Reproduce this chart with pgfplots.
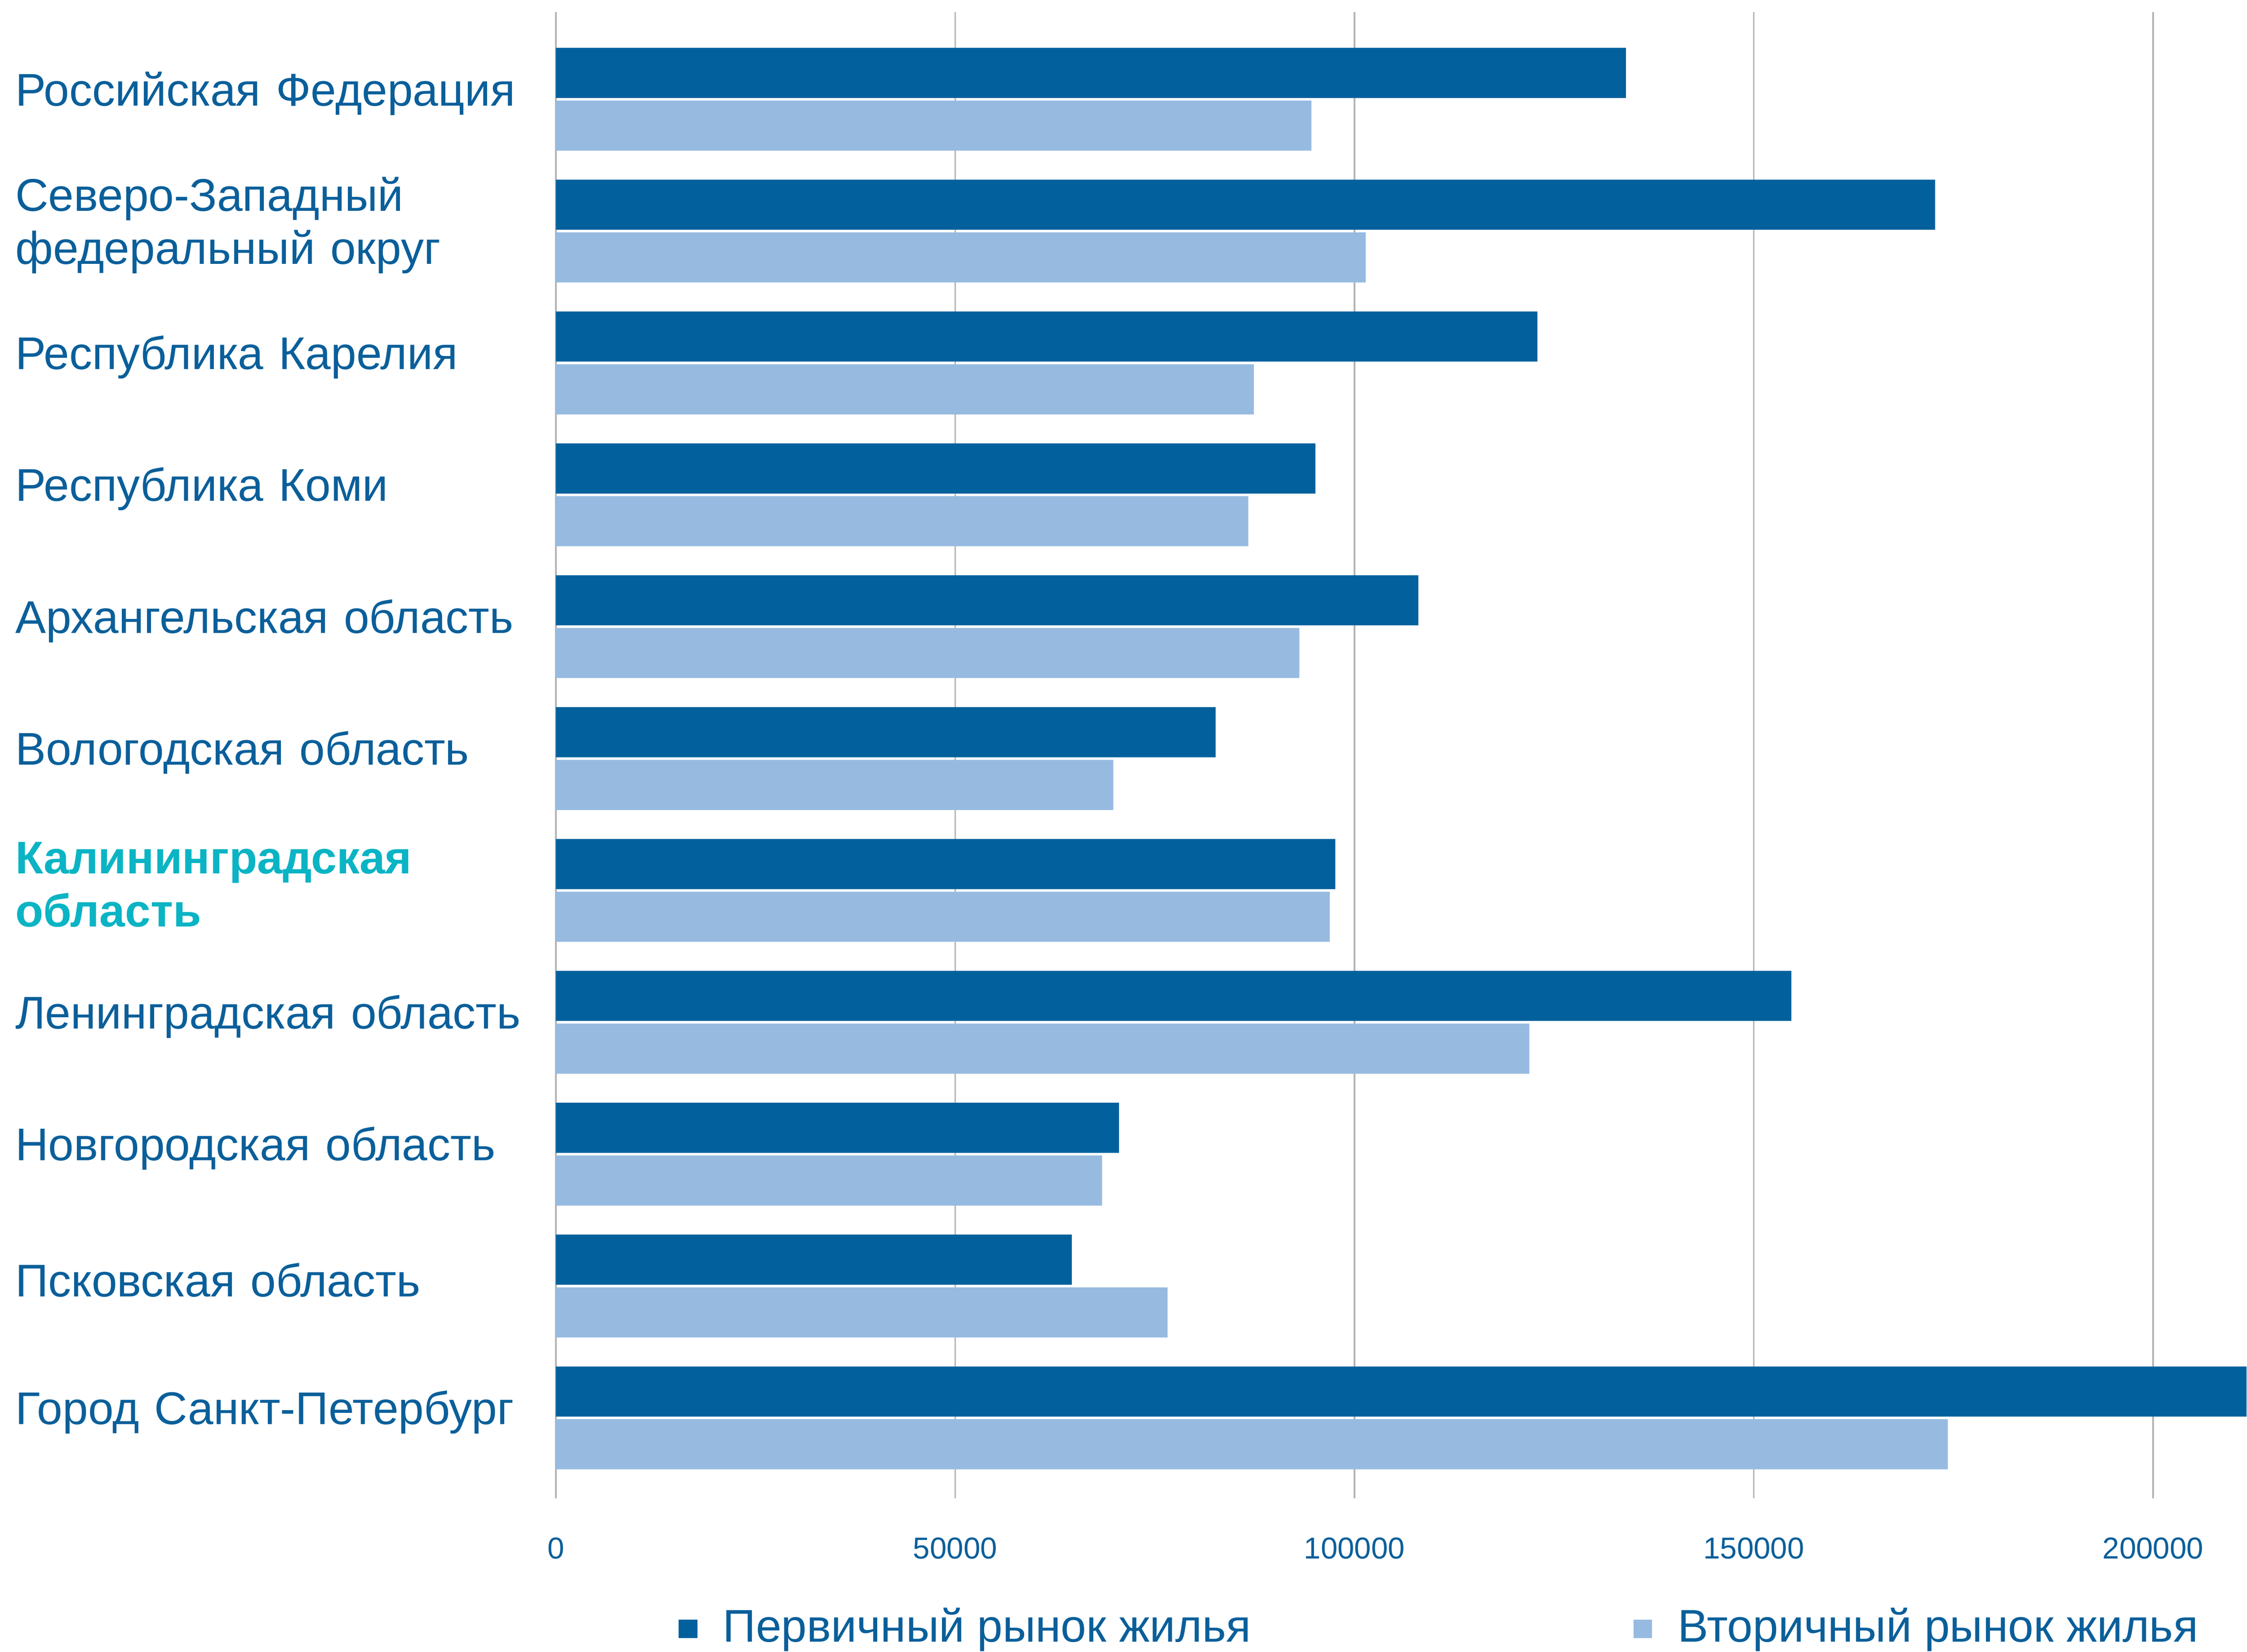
\documentclass[border=0pt]{standalone}
\usepackage{pgfplots}
\usepackage{pgfplotstable}
\pgfplotsset{compat=1.18}
\usepackage{fontspec}
\setmainfont{Liberation Sans}

\definecolor{dblue}{HTML}{02619D}
\definecolor{lblue}{HTML}{97BBE0}
\definecolor{tblue}{HTML}{0A5F9A}
\definecolor{kteal}{HTML}{0AB4C4}
\definecolor{gridc}{HTML}{B4B4B4}

% idx: 0 = top row
\pgfplotstableread{
idx prim   sec
0   134000 94600
1   172700 101400
2   122900 87400
3   95100  86700
4   108000 93100
5   82600  69800
6   97600  96900
7   154700 121900
8   70500  68400
9   64600  76600
10  230000 174300
}\prices

\begin{document}
\begin{tikzpicture}
\begin{axis}[
  name=ax,
  scale only axis,
  width=118mm, height=103.7mm,
  xmin=0, xmax=211700,
  ymin=-0.66, ymax=10.61,
  y dir=reverse,
  clip mode=individual,
  axis line style={draw=none},
  major tick length=0pt,
  xmajorgrids, grid style={gridc, line width=0.3pt},
  scaled x ticks=false,
  xtick={0,50000,100000,150000,200000},
  xticklabels={0,50000,100000,150000,200000},
  xticklabel style={font=\fontsize{6}{7}\selectfont, text=tblue, yshift=-1.5mm},
  ytick={0,...,10},
  yticklabels={
    Российская Федерация,
    {Северо-Западный\\федеральный округ},
    Республика Карелия,
    Республика Коми,
    Архангельская область,
    Вологодская область,
    {\textbf{\color{kteal}Калининградская}\\\textbf{\color{kteal}область}},
    Ленинградская область,
    Новгородская область,
    Псковская область,
    Город Санкт-Петербург},
  yticklabel style={anchor=west, xshift=-37.8mm, yshift=0.4mm, text width=37.5mm,
    align=left, inner sep=0pt, text=tblue,
    font=\fontsize{9.1}{10.5}\selectfont},
  legend columns=2,
  legend image code/.code={\fill[#1] (0mm,-0.65mm) rectangle (1.3mm,0.65mm);},
  legend style={draw=none, fill=none, at={(0.072,-0.0878)}, anchor=west,
    inner sep=0pt, font=\fontsize{9.1}{10.5}\selectfont, text=tblue,
    nodes={inner sep=0pt},
    /tikz/every odd column/.append style={column sep=1.8mm},
    /tikz/every even column/.append style={column sep=26.7mm}},
]
\addplot[xbar, fill=dblue, draw=none, bar width=0.38, bar shift=-0.2]
  table[x=prim, y=idx] {\prices};
\addlegendentry{Первичный рынок жилья}
\addplot[xbar, fill=lblue, draw=none, bar width=0.38, bar shift=0.2]
  table[x=sec, y=idx] {\prices};
\addlegendentry{Вторичный рынок жилья}
\end{axis}
\path ([shift={(-38.8mm,-10.7mm)}]ax.south west) rectangle ([shift={(0mm,0.85mm)}]ax.north east);
\end{tikzpicture}
\end{document}
